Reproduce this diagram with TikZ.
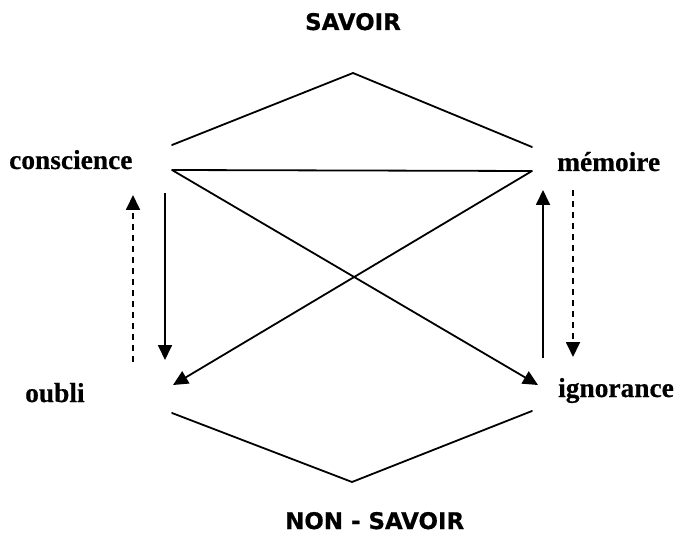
\documentclass[tikz,border=0pt]{standalone}
\usepackage{fontspec}
\setmainfont[BoldFeatures={FakeBold=0.5}]{Liberation Serif}
\newfontfamily\titlefont[BoldFeatures={FakeBold=0.6}]{DejaVu Sans}
\usetikzlibrary{arrows.meta}
\tikzset{
  pole/.style={inner sep=0pt, font=\titlefont\bfseries\fontsize{23}{26}\selectfont},
  term/.style={inner sep=0pt, font=\bfseries\fontsize{27.5}{30}\selectfont},
  edge/.style={line width=1.8bp, line cap=round},
  solidarrow/.style={line width=1.8bp, -{Triangle[width=14bp,length=15bp]}},
  dasharrow/.style={line width=1.8bp, dash pattern=on 6bp off 5bp, -{Triangle[width=14bp,length=15bp]}}
}
\begin{document}
\begin{tikzpicture}[x=1bp,y=-1bp]
  \useasboundingbox (0,0) rectangle (678,535);

  % poles of the hexagon
  \node[pole, anchor=base] (savoir) at (353,30) {SAVOIR};
  \node[pole, anchor=base west] (nonsavoir) at (285,529) {NON - SAVOIR};

  % the four terms
  \node[term, anchor=base west] (conscience) at (9,169) {conscience};
  \node[term, anchor=base west] (memoire) at (557,171) {mémoire};
  \node[term, anchor=base west] (oubli) at (25,402) {oubli};
  \node[term, anchor=base west] (ignorance) at (558,397) {ignorance};

  % end points of the connectors
  \coordinate (top) at (353,73);
  \coordinate (ul) at (172,145);
  \coordinate (ur) at (532,147);
  \coordinate (cl) at (172,170);
  \coordinate (cr) at (532,171);
  \coordinate (otip) at (173,385);
  \coordinate (itip) at (538,385);
  \coordinate (bl) at (172,413);
  \coordinate (bot) at (352,482);
  \coordinate (br) at (532,411);

  \coordinate (ls1) at (165,193);
  \coordinate (ls2) at (165,360);
  \coordinate (ld1) at (133,362);
  \coordinate (ld2) at (133,195);
  \coordinate (rs1) at (543,358);
  \coordinate (rs2) at (543,190);
  \coordinate (rd1) at (573,190);
  \coordinate (rd2) at (573,357);

  % outline of the hexagon
  \draw[edge] (ul) -- (top) -- (ur);
  \draw[edge] (bl) -- (bot) -- (br);
  \draw[edge] (cl) -- (cr);

  % diagonals
  \draw[solidarrow] (cl) -- (itip);
  \draw[solidarrow] (cr) -- (otip);

  % vertical transitions
  \draw[solidarrow] (ls1) -- (ls2);
  \draw[dasharrow] (ld1) -- (ld2);
  \draw[solidarrow] (rs1) -- (rs2);
  \draw[dasharrow] (rd1) -- (rd2);
\end{tikzpicture}
\end{document}
